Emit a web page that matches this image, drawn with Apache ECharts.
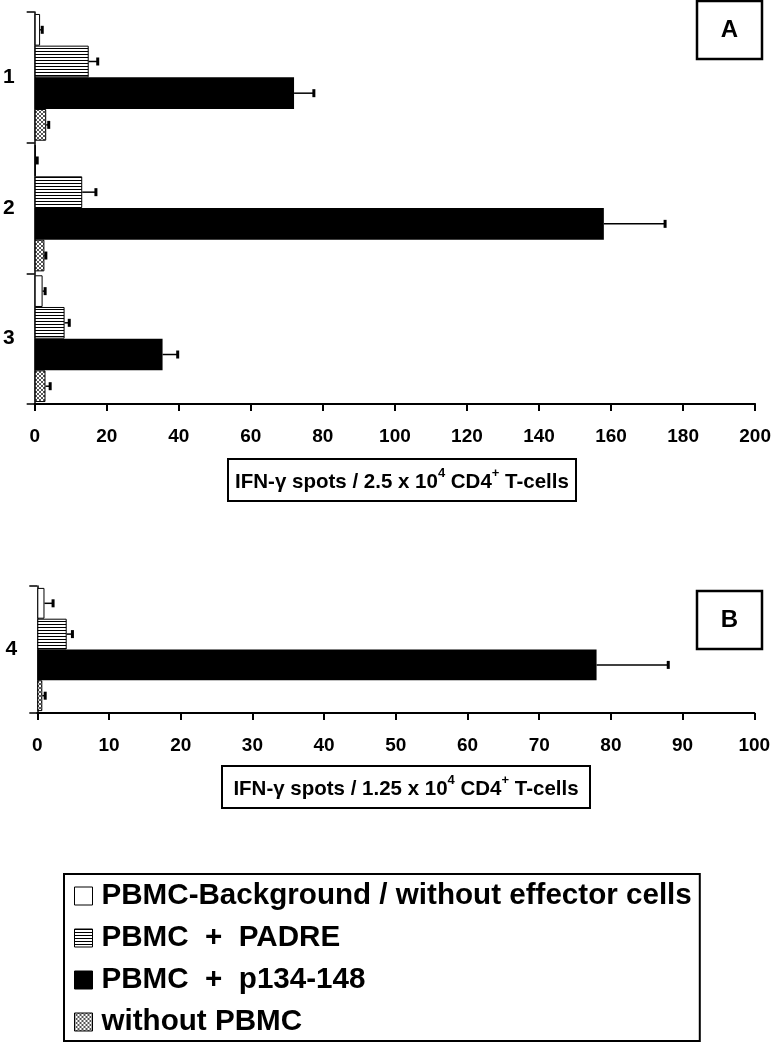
<!DOCTYPE html>
<html>
<head>
<meta charset="utf-8">
<script src="https://cdn.jsdelivr.net/npm/echarts@6/dist/echarts.min.js"></script>
<style>
html,body{margin:0;padding:0;background:#fff;}
#chart{width:774px;height:1042px;}
</style>
</head>
<body>
<div id="chart"></div>
<script>
// ---------- data ----------
const seriesNames = ['PBMC-Background / without effector cells', 'PBMC  +  PADRE', 'PBMC  +  p134-148', 'without PBMC'];

const groupsA = ['1', '2', '3'];
const backgroundA = [1.5, 0.3, 2.2];
const backgroundErrA = [0.6, 0.4, 0.7];
const padreA = [15.0, 13.2, 8.3];
const padreErrA = [2.5, 3.8, 1.3];
const p134A = [72.0, 158.0, 35.5];
const p134ErrA = [5.5, 17.0, 4.2];
const noPbmcA = [3.2, 2.7, 3.0];
const noPbmcErrA = [0.7, 0.4, 1.3];

const groupsB = ['4'];
const backgroundB = [1.0];
const backgroundErrB = [1.2];
const padreB = [4.1];
const padreErrB = [0.8];
const p134B = [78.0];
const p134ErrB = [10.0];
const noPbmcB = [0.7];
const noPbmcErrB = [0.4];

const ticksA = {min: 0, max: 200, interval: 20};
const ticksB = {min: 0, max: 100, interval: 10};

// ---------- styles ----------
function hatchCanvas() {
  const c = document.createElement('canvas');
  c.width = 4; c.height = 3;
  const g = c.getContext('2d');
  g.fillStyle = '#fff'; g.fillRect(0, 0, 4, 3);
  g.fillStyle = '#000'; g.fillRect(0, 0, 4, 1);
  return c;
}
function crossCanvas() {
  const c = document.createElement('canvas');
  c.width = 4; c.height = 4;
  const g = c.getContext('2d');
  g.fillStyle = '#fff'; g.fillRect(0, 0, 4, 4);
  g.fillStyle = '#555';
  for (let i = 0; i < 4; i++) { g.fillRect(i, i, 1, 1); g.fillRect(3 - i, i, 1, 1); }
  return c;
}
const fills = [
  '#ffffff',
  {image: hatchCanvas(), repeat: 'repeat'},
  '#000000',
  {image: crossCanvas(), repeat: 'repeat'}
];
const CAT_GAP = 0.03;
const FONT = 'Liberation Sans, Arial, sans-serif';

function errRender(k) {
  return function (params, api) {
    const v = api.value(0), e = api.value(1), ci = api.value(2);
    const p = api.coord([v, ci]);
    const band = api.size([0, 1])[1];
    const total = band * (1 - CAT_GAP);
    const bw = total / 4;
    const y = p[1] - total / 2 + bw * (k + 0.5);
    const x2 = api.coord([v + e, ci])[0];
    return {
      type: 'group',
      children: [
        {type: 'line', shape: {x1: p[0], y1: y, x2: x2, y2: y}, style: {stroke: '#000', lineWidth: 1.5}},
        {type: 'rect', shape: {x: x2 - 1.5, y: y - 4, width: 3, height: 8}, style: {fill: '#000'}}
      ]
    };
  };
}

function panelSeries(gi, vals, errs) {
  const out = [];
  vals.forEach((arr, k) => {
    out.push({
      type: 'bar', name: seriesNames[k], xAxisIndex: gi, yAxisIndex: gi,
      data: arr, barGap: '0%', barCategoryGap: (CAT_GAP * 100) + '%',
      itemStyle: {color: fills[k], borderColor: '#000', borderWidth: k === 2 ? 0 : 1},
      emphasis: {disabled: true}, animation: false, z: 2
    });
  });
  vals.forEach((arr, k) => {
    out.push({
      type: 'custom', name: 'err' + gi + k, xAxisIndex: gi, yAxisIndex: gi,
      data: arr.map((v, i) => [v, errs[k][i], i]),
      encode: {x: 0, y: 2},
      renderItem: errRender(k), z: 3, animation: false, silent: true
    });
  });
  return out;
}

function xAxis(gi, t) {
  return {
    type: 'value', gridIndex: gi, min: t.min, max: t.max, interval: t.interval,
    axisLine: {show: true, lineStyle: {color: '#000', width: 2}},
    axisTick: {show: true, length: 7, lineStyle: {color: '#000', width: 2}},
    splitLine: {show: false},
    axisLabel: {color: '#000', fontFamily: FONT, fontWeight: 'bold', fontSize: 19, margin: 23}
  };
}
function yAxis(gi, cats) {
  return {
    type: 'category', gridIndex: gi, data: cats, inverse: true,
    axisLine: {show: true, lineStyle: {color: '#000', width: 1.5}},
    axisTick: {show: true, length: 8, lineStyle: {color: '#000', width: 1.5}},
    axisLabel: {color: '#000', fontFamily: FONT, fontWeight: 'bold', fontSize: 21, margin: 20}
  };
}

function titleBox(x, y, w, h, mid) {
  return [
    {type: 'rect', shape: {x: x, y: y, width: w, height: h}, style: {fill: '#fff', stroke: '#000', lineWidth: 2}, z: 10},
    {type: 'text', x: x + w / 2, y: y + h / 2, z: 11, style: {
      text: '{t|IFN-γ spots / ' + mid + ' x 10}{s|4}{t| CD4}{s|+}{t| T-cells}',
      align: 'center', verticalAlign: 'middle',
      rich: {
        t: {fontFamily: FONT, fontWeight: 'bold', fontSize: 20.5, fill: '#000', lineHeight: 26, verticalAlign: 'bottom'},
        s: {fontFamily: FONT, fontWeight: 'bold', fontSize: 13, fill: '#000', lineHeight: 15, verticalAlign: 'top'}
      }
    }}
  ];
}
function letterBox(x, y, w, h, letter) {
  return [
    {type: 'rect', shape: {x: x, y: y, width: w, height: h}, style: {fill: '#fff', stroke: '#000', lineWidth: 2.5}, z: 10},
    {type: 'text', x: x + w / 2, y: y + h / 2, z: 11, style: {
      text: letter, align: 'center', verticalAlign: 'middle',
      font: 'bold 24px ' + FONT, fill: '#000'
    }}
  ];
}

const chart = echarts.init(document.getElementById('chart'), null, {renderer: 'canvas'});
chart.setOption({
  animation: false,
  backgroundColor: '#fff',
  grid: [
    {left: 33.5, top: 12, width: 723, height: 392},
    {left: 37.3, top: 586, width: 717, height: 127}
  ],
  xAxis: [xAxis(0, ticksA), xAxis(1, ticksB)],
  yAxis: [yAxis(0, groupsA), yAxis(1, groupsB)],
  legend: {
    data: seriesNames.map(n => ({name: n, icon: 'rect'})),
    orient: 'vertical', left: 64, top: 874,
    padding: [7, 8, 4, 10],
    itemWidth: 18, itemHeight: 18, itemGap: 12,
    borderColor: '#000', borderWidth: 2,
    selectedMode: false,
    itemStyle: {borderColor: '#000', borderWidth: 1},
    textStyle: {color: '#000', fontFamily: FONT, fontWeight: 'bold', fontSize: 29.6, lineHeight: 30, padding: [0, 0, 0, 4]}
  },
  graphic: [].concat(
    titleBox(228, 459, 348, 42, '2.5'),
    titleBox(222, 766, 368, 42, '1.25'),
    letterBox(697, 1, 65, 58, 'A'),
    letterBox(697, 591, 65, 58, 'B')
  ),
  series: [].concat(
    panelSeries(0, [backgroundA, padreA, p134A, noPbmcA], [backgroundErrA, padreErrA, p134ErrA, noPbmcErrA]),
    panelSeries(1, [backgroundB, padreB, p134B, noPbmcB], [backgroundErrB, padreErrB, p134ErrB, noPbmcErrB])
  )
});
</script>
</body>
</html>
